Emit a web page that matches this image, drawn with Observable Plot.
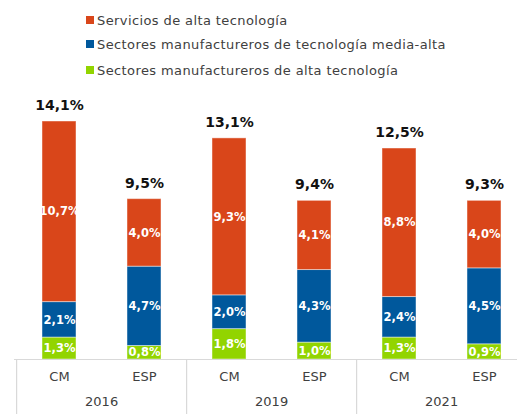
<!DOCTYPE html>
<html>
<head>
<meta charset="utf-8">
<script src="https://cdn.jsdelivr.net/npm/d3@7"></script>
<script src="https://cdn.jsdelivr.net/npm/@observablehq/plot@0.6"></script>
<style>
  body { margin: 0; background: #fff; }
  #wrap { width: 517px; position: relative; font-family: "DejaVu Sans", sans-serif; }
  #legend { position: relative; height: 85px; }
  .item { position: absolute; left: 86px; display: flex; align-items: center; font-size: 13px; letter-spacing: 0.4px; color: #404040; white-space: nowrap; }
  .sw { width: 8px; height: 8px; margin-right: 3px; }
  svg { display: block; }
</style>
</head>
<body>
<div id="wrap">
  <div id="legend"></div>
  <div id="chart"></div>
</div>
<script>
const years = ["2016", "2019", "2021"];
const regions = ["CM", "ESP"];
const seriesNames = [
  "Sectores manufactureros de alta tecnología",
  "Sectores manufactureros de tecnología media-alta",
  "Servicios de alta tecnología"
];
const legendOrder = [2, 1, 0];
const seriesColors = ["#92D400", "#00589C", "#D9461A"];
// values per bar, order: 2016 CM, 2016 ESP, 2019 CM, 2019 ESP, 2021 CM, 2021 ESP
const altaManuf = [1.3, 0.8, 1.8, 1.0, 1.3, 0.9];
const mediaAlta = [2.1, 4.7, 2.0, 4.3, 2.4, 4.5];
const servicios = [10.7, 4.0, 9.3, 4.1, 8.8, 4.0];
const totalLabels = ["14,1%", "9,5%", "13,1%", "9,4%", "12,5%", "9,3%"];

const bars = [];
years.forEach(y => regions.forEach(r => bars.push({year: y, region: r, key: y + "|" + r})));
const seriesValues = [altaManuf, mediaAlta, servicios];
const rows = [];
bars.forEach((b, i) => {
  seriesValues.forEach((vals, s) => rows.push({key: b.key, series: seriesNames[s], value: vals[i]}));
});
const totals = bars.map((b, i) => ({key: b.key, total: altaManuf[i] + mediaAlta[i] + servicios[i], label: totalLabels[i]}));
const fmt = v => d3.format(".1f")(v).replace(".", ",") + "%";

// legend
const legend = document.getElementById("legend");
const rowsY = [20, 44, 70];
legendOrder.forEach((s, j) => {
  const it = document.createElement("div");
  it.className = "item";
  it.style.top = (rowsY[j] - 8) + "px";
  it.style.height = "16px";
  it.innerHTML = `<span class="sw" style="background:${seriesColors[s]}"></span><span>${seriesNames[s]}</span>`;
  legend.appendChild(it);
});

const W = 517, H = 329, mB = 55, xLeft = 14, xRight = 528.5;
const step = (xRight - xLeft) / bars.length;
const gray = "#d9d9d9";

const chart = Plot.plot({
  width: W,
  height: H,
  marginLeft: xLeft,
  marginRight: 0,
  marginTop: 0,
  marginBottom: mB,
  style: {fontFamily: "DejaVu Sans, sans-serif", overflow: "visible"},
  x: {type: "band", domain: bars.map(b => b.key), range: [xLeft, xRight], paddingInner: 0.6, paddingOuter: 0.3, axis: null},
  y: {domain: [0, 14.1], range: [H - mB, 36], axis: null},
  color: {domain: seriesNames, range: seriesColors},
  marks: [
    Plot.barY(rows, {x: "key", y: "value", fill: "series", stroke: "#ffffff", strokeOpacity: 0.45, strokeWidth: 1}),
    Plot.text(rows, Plot.stackY({x: "key", y: "value", z: "series", text: d => fmt(d.value), fill: "white", fontWeight: "bold", fontSize: 11.5})),
    Plot.text(totals, {x: "key", y: "total", text: "label", dy: -16, fontWeight: "bold", fontSize: 14, fill: "#111"}),
    Plot.ruleY([0], {stroke: gray, strokeWidth: 1.2}),
    Plot.ruleX(years, {x: d => d + "|CM", dx: -step / 2, y1: 0, insetBottom: -mB, stroke: gray, strokeWidth: 1.2}),
    Plot.text(bars, {x: "key", text: "region", frameAnchor: "bottom", dy: 21, fontSize: 13, fill: "#404040"}),
    Plot.text(years, {x: d => d + "|ESP", text: d => d, dx: -step / 2, frameAnchor: "bottom", dy: 46, fontSize: 13, fill: "#404040"})
  ]
});
document.getElementById("chart").appendChild(chart);
</script>
</body>
</html>
